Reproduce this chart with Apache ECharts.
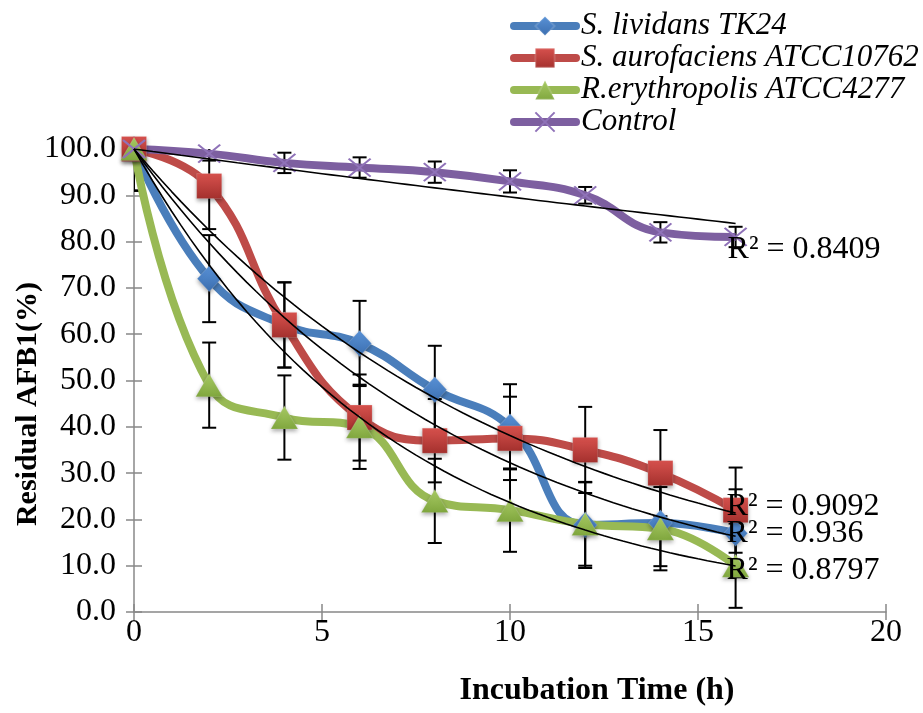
<!DOCTYPE html>
<html><head><meta charset="utf-8">
<script src="https://cdn.jsdelivr.net/npm/echarts@6/dist/echarts.min.js"></script>
<style>html,body{margin:0;padding:0;background:#fff}#c{width:923px;height:713px}</style>
</head><body><div id="c"></div>
<script>
// ---- data ----
const hours = [0, 2, 4, 6, 8, 10, 12, 14, 16];
const seriesNames = ['S. lividans TK24', 'S. aurofaciens ATCC10762', 'R.erythropolis ATCC4277', 'Control'];
const lividans = [100, 72, 62, 58, 48, 40, 18.8, 19.2, 17];
const aurofaciens = [100, 92, 62, 42, 37, 37.5, 35, 30, 22];
const erythropolis = [100, 49, 42, 40, 24, 22, 19, 18, 10];
const control = [100, 99, 97, 96, 95, 93, 90, 82, 81];
const lividansErr = [9, 9.4, 9.2, 9.2, 9.5, 9.2, 9.3, 9.3, 9.5];
const aurofaciensErr = [9, 9.3, 9.2, 9.3, 9, 9, 9.3, 9.3, 9.2];
const erythropolisErr = [9, 9.2, 9.1, 9.1, 9.1, 9, 9, 9, 9.1];
const controlErr = [1.5, 1.5, 2.2, 2.2, 2.3, 2.4, 1.8, 2.2, 2.2];
const rSquaredLabels = ['R² = 0.936', 'R² = 0.9092', 'R² = 0.8797', 'R² = 0.8409'];
const xTickLabels = ['0', '5', '10', '15', '20'];
const yTickLabels = ['0.0','10.0','20.0','30.0','40.0','50.0','60.0','70.0','80.0','90.0','100.0'];
const xTitle = 'Incubation Time (h)';
const yTitle = 'Residual AFB1(%)';

// ---- styles ----
const FONT = "'Liberation Serif','DejaVu Serif',serif";
const colors = ['#4A7EBB', '#BE4B48', '#98B954', '#7D5FA0'];
const values = [lividans, aurofaciens, erythropolis, control];
const errs = [lividansErr, aurofaciensErr, erythropolisErr, controlErr];

function grad(top, bottom) {
  return new echarts.graphic.LinearGradient(0, 0, 0, 1, [{offset: 0, color: top}, {offset: 1, color: bottom}]);
}
const symbolDefs = [
  {symbol: 'diamond', size: [24, 26], color: grad('#5A93D8', '#3A6DAE')},
  {symbol: 'rect', size: 25, color: grad('#D8524E', '#A3302D')},
  {symbol: 'triangle', size: [27, 23], color: grad('#AACC66', '#7FA63D')},
  {symbol: 'path://M0,0L10,10M10,0L0,10', size: [22, 18], color: 'rgba(0,0,0,0)'}
];

// exponential trendline (intercept fixed at 100), least squares on ln(y)
function expFit(ys) {
  let num = 0, den = 0;
  hours.forEach((x, i) => { num += x * Math.log(ys[i] / 100); den += x * x; });
  return num / den;
}
const labelOffsets = [[-9, -3], [-9, -7], [-9, 5], [-8, 26]];

const series = [];
values.forEach((ys, si) => {
  // error bars
  series.push({
    type: 'custom', name: seriesNames[si] + ' err', z: 1, silent: true, clip: true,
    data: hours.map((x, i) => [x, ys[i], errs[si][i]]),
    renderItem: function (params, api) {
      const x = api.value(0), y = api.value(1), e = api.value(2);
      const top = api.coord([x, y + e]), bot = api.coord([x, y - e]);
      const cw = 7;
      const st = {stroke: '#000', lineWidth: 2};
      return {type: 'group', children: [
        {type: 'line', shape: {x1: top[0], y1: top[1], x2: bot[0], y2: bot[1]}, style: st},
        {type: 'line', shape: {x1: top[0] - cw, y1: top[1], x2: top[0] + cw, y2: top[1]}, style: st},
        {type: 'line', shape: {x1: bot[0] - cw, y1: bot[1], x2: bot[0] + cw, y2: bot[1]}, style: st}
      ]};
    }
  });
  // main line
  const sd = symbolDefs[si];
  series.push({
    type: 'line', name: seriesNames[si], z: 2,
    data: hours.map((x, i) => [x, ys[i]]),
    smooth: 0.45,
    lineStyle: {width: 8, color: colors[si]},
    symbol: sd.symbol, symbolSize: sd.size,
    itemStyle: si === 3
      ? {color: sd.color, borderColor: '#8F72B8', borderWidth: 2}
      : {color: sd.color, borderColor: 'rgba(255,255,255,0.15)', borderWidth: 1, shadowBlur: 4, shadowColor: 'rgba(0,0,0,0.35)', shadowOffsetY: 2},
    emphasis: {disabled: true}
  });
});
// trendlines and their R² labels
values.forEach((ys, si) => {
  const k = expFit(ys);
  const pts = [];
  for (let x = 0; x <= 16.0001; x += 0.25) pts.push([x, 100 * Math.exp(k * x)]);
  series.push({
    type: 'line', name: seriesNames[si] + ' trend', z: 5, silent: true,
    data: pts, showSymbol: false, symbol: 'none',
    lineStyle: {width: 1.6, color: '#000'},
    emphasis: {disabled: true}
  });
  series.push({
    type: 'scatter', name: seriesNames[si] + ' r2', z: 6, silent: true,
    data: [pts[pts.length - 1]], symbolSize: 0.01,
    itemStyle: {color: '#000', opacity: 1},
    label: {show: true, position: 'right', distance: 0, offset: labelOffsets[si],
      formatter: rSquaredLabels[si], fontFamily: FONT, fontSize: 32, color: '#000',
      opacity: 1, textBorderWidth: 0},
    emphasis: {disabled: true}
  });
});

const chart = echarts.init(document.getElementById('c'), null, {renderer: 'canvas'});
const axisLine = {show: true, lineStyle: {color: '#888', width: 1.5}};
chart.setOption({
  animation: false,
  backgroundColor: '#fff',
  grid: {left: 134, right: 37, top: 149, bottom: 101},
  legend: {
    data: seriesNames, orient: 'vertical', left: 505, top: 5,
    itemWidth: 62, itemHeight: 24, itemGap: 0, selectedMode: false,
    lineStyle: {width: 8, cap: 'round'},
    textStyle: {fontFamily: FONT, fontSize: 31, lineHeight: 32, fontStyle: 'italic', color: '#000'}
  },
  xAxis: [
    {type: 'value', min: 0, max: 20, interval: 5, axisLine: axisLine,
      axisTick: {show: true, length: 8, lineStyle: {color: '#888', width: 1.5}},
      splitLine: {show: false},
      axisLabel: {fontFamily: FONT, fontSize: 32, color: '#000', margin: 5,
        formatter: v => xTickLabels[Math.round(v / 5)]}},
    {type: 'value', min: 0, max: 20, interval: 5, position: 'bottom', axisLine: {show: false},
      axisTick: {show: true, inside: true, length: 8, lineStyle: {color: '#888', width: 1.5}},
      axisLabel: {show: false}, splitLine: {show: false}}
  ],
  yAxis: [
    {type: 'value', min: 0, max: 100, interval: 10, axisLine: axisLine,
      axisTick: {show: true, length: 8, lineStyle: {color: '#888', width: 1.5}},
      splitLine: {show: false},
      axisLabel: {fontFamily: FONT, fontSize: 32, color: '#000', margin: 18,
        formatter: v => yTickLabels[Math.round(v / 10)]}},
    {type: 'value', min: 0, max: 100, interval: 10, position: 'left', axisLine: {show: false},
      axisTick: {show: true, inside: true, length: 8, lineStyle: {color: '#888', width: 1.5}},
      axisLabel: {show: false}, splitLine: {show: false}}
  ],
  graphic: [
    {type: 'text', x: 597, y: 691, style: {text: xTitle, fontFamily: FONT, fontSize: 32, fontWeight: 'bold', fill: '#000', align: 'center', verticalAlign: 'middle'}},
    {type: 'text', x: 28, y: 404, rotation: Math.PI / 2,
      style: {text: yTitle, fontFamily: FONT, fontSize: 30, fontWeight: 'bold', fill: '#000', align: 'center', verticalAlign: 'middle'}}
  ],
  series: series
});
</script>
</body></html>
